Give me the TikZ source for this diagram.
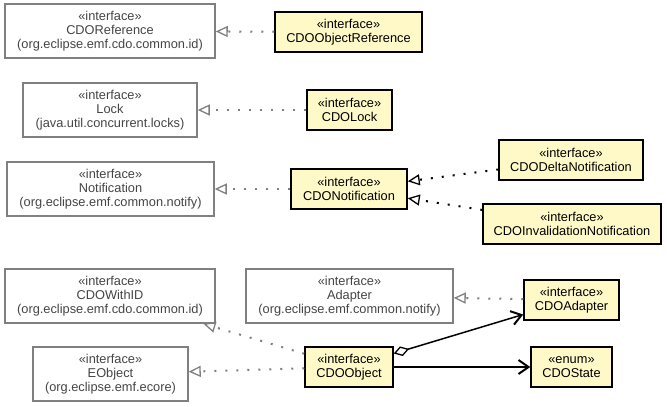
\documentclass[tikz,border=0pt]{standalone}
\usepackage{fontspec}
\setmainfont{Liberation Sans}
\usetikzlibrary{arrows.meta}
\definecolor{boxyellow}{HTML}{FFF9C8}
\definecolor{extgray}{HTML}{808080}
\definecolor{exttext}{HTML}{454545}
\tikzset{
  base/.style={rectangle, inner sep=0pt, align=center, font=\fontsize{12.8}{14}\selectfont, line width=1.5pt},
  ext/.style={base, draw=extgray, text=exttext, fill=white},
  own/.style={base, draw=black, fill=boxyellow, text=black},
  realize/.style={line width=2pt, dash pattern=on 2pt off 9pt, -{Triangle[open, length=12pt, width=11pt, line width=1.3pt, sep=0pt]}},
  realizeext/.style={realize, draw=extgray},
  assoc/.style={line width=1.5pt, -{Straight Barb[length=10pt, width=14pt, line width=2pt]}},
  aggr/.style={line width=1.5pt, {Diamond[open, length=16pt, width=10pt, line width=1.3pt]}-{Straight Barb[length=10pt, width=14pt, line width=2pt]}}
}
\begin{document}
\begin{tikzpicture}[x=1pt, y=-1pt]
\useasboundingbox (0,0) rectangle (667,407);
\fill[white] (0,0) rectangle (667,407);
% boxes
\node[ext, minimum width=210pt, minimum height=54pt] (cdoref) at (110,31) {«interface»\\CDOReference\\(org.eclipse.emf.cdo.common.id)};
\node[own, minimum width=147pt, minimum height=40pt] (cdoobjref) at (348.5,32) {«interface»\\CDOObjectReference};
\node[ext, minimum width=174pt, minimum height=54pt] (lock) at (110,110) {«interface»\\Lock\\(java.util.concurrent.locks)};
\node[own, minimum width=85pt, minimum height=40pt] (cdolock) at (349.5,110) {«interface»\\CDOLock};
\node[ext, minimum width=207pt, minimum height=54pt] (notif) at (110.5,189) {«interface»\\Notification\\(org.eclipse.emf.common.notify)};
\node[own, minimum width=116pt, minimum height=40pt] (cdonotif) at (349,189) {«interface»\\CDONotification};
\node[own, minimum width=144pt, minimum height=40pt] (delta) at (571,160) {«interface»\\CDODeltaNotification};
\node[own, minimum width=178pt, minimum height=40pt] (inval) at (572,224) {«interface»\\CDOInvalidationNotification};
\node[ext, minimum width=210pt, minimum height=54pt] (withid) at (110,296) {«interface»\\CDOWithID\\(org.eclipse.emf.cdo.common.id)};
\node[ext, minimum width=207pt, minimum height=54pt] (adapter) at (349.5,296) {«interface»\\Adapter\\(org.eclipse.emf.common.notify)};
\node[own, minimum width=95pt, minimum height=40pt] (cdoadapter) at (571.5,300) {«interface»\\CDOAdapter};
\node[ext, minimum width=155pt, minimum height=54pt] (eobject) at (110.5,374) {«interface»\\EObject\\(org.eclipse.emf.ecore)};
\node[own, minimum width=88pt, minimum height=40pt] (cdoobject) at (349,367) {«interface»\\CDOObject};
\node[own, minimum width=81pt, minimum height=40pt] (cdostate) at (571.5,367) {«enum»\\CDOState};
% connectors
\draw[realizeext] (cdoobjref) -- (cdoref);
\draw[realizeext] (cdolock) -- (lock);
\draw[realizeext] (cdonotif) -- (notif);
\draw[realize] (delta) -- (cdonotif);
\draw[realize] (inval) -- (cdonotif);
\draw[realizeext] (cdoadapter) -- (adapter);
\draw[realizeext] (cdoobject) -- (withid);
\draw[realizeext] (cdoobject) -- (eobject);
\draw[aggr] (cdoobject) -- (cdoadapter);
\draw[assoc] (cdoobject) -- (cdostate);
\end{tikzpicture}
\end{document}
